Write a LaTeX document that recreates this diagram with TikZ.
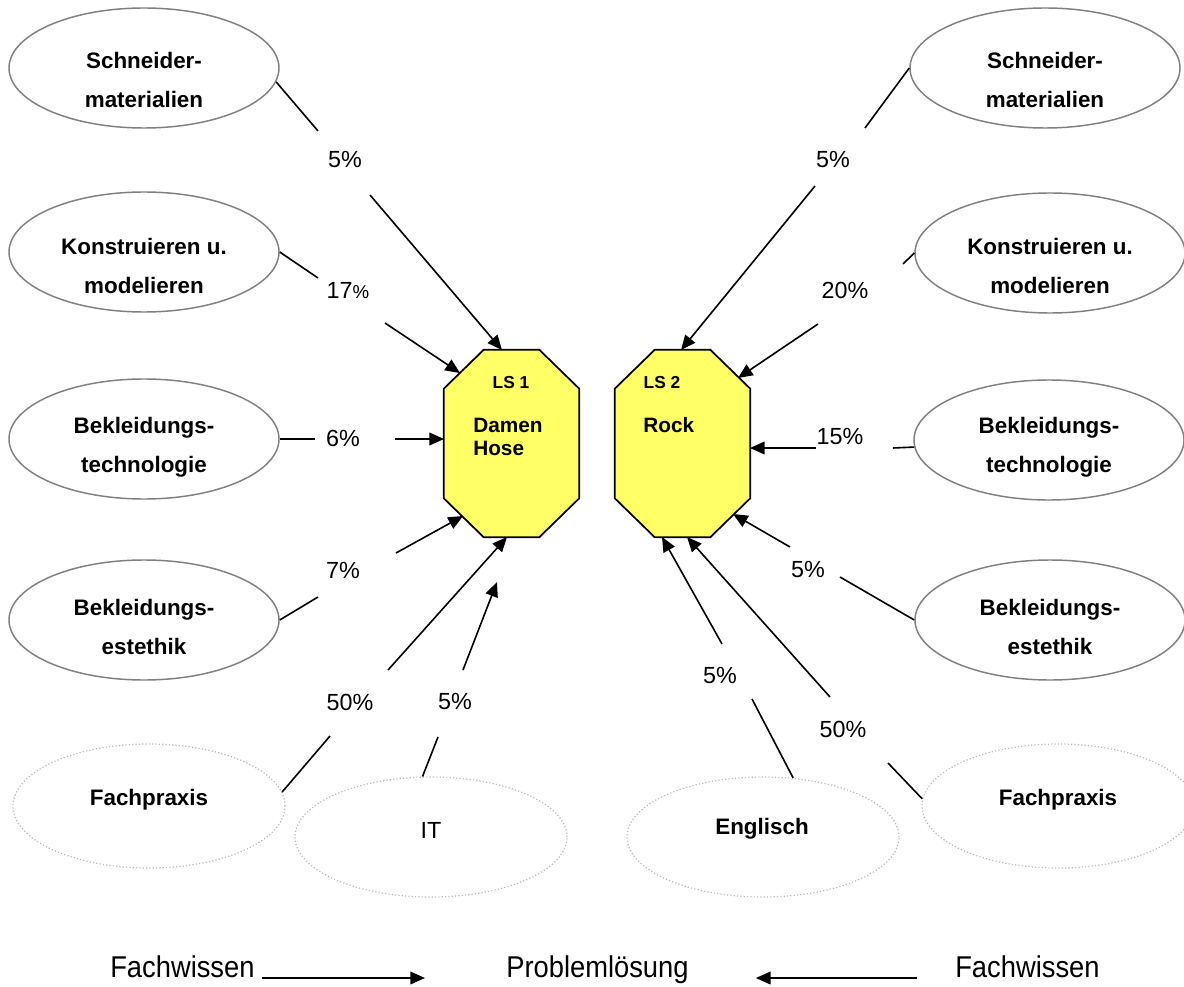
\documentclass[tikz,border=0pt]{standalone}
\usepackage{fontspec}
\setmainfont{Liberation Sans}
\usetikzlibrary{shapes.geometric,arrows.meta,calc}
\definecolor{ellgray}{RGB}{128,128,128}
\definecolor{dotgray}{RGB}{185,185,185}
\definecolor{octyellow}{RGB}{255,255,102}
\begin{document}
\begin{tikzpicture}[x=0.75pt,y=-0.75pt,
  ell/.style={ellipse,draw=ellgray,line width=1.1pt,minimum width=202.5pt,minimum height=90pt,inner sep=0pt},
  dotell/.style={ellipse,draw=dotgray,line width=0.9pt,dash pattern=on 0.9pt off 1.6pt,minimum width=204pt,inner sep=0pt},
  eltext/.style={font=\fontsize{16.8}{29.25}\selectfont\bfseries,align=center,inner sep=0pt},
  itext/.style={font=\fontsize{17.5}{20}\selectfont,inner sep=0pt},
  pct/.style={font=\fontsize{17.5}{21}\selectfont,inner sep=0pt},
  conn/.style={line width=1.2pt},
  arr/.style={line width=1.2pt,-{Triangle[length=11pt,width=9.5pt]}},
  oct/.style={draw=black,line width=1.3pt,fill=octyellow,line join=miter},
  octbox/.style={rectangle,minimum width=101.25pt,minimum height=140.25pt,inner sep=0pt},
  lstext/.style={font=\fontsize{13}{15}\selectfont\bfseries,inner sep=0pt},
  octtext/.style={font=\fontsize{15.6}{17.25}\selectfont\bfseries,align=left,anchor=west,inner sep=0pt},
  bottext/.style={font=\fontsize{20.5}{25}\selectfont,anchor=base west,inner sep=0pt,yscale=1.1},
]
\path[use as bounding box] (0,0) rectangle (1184,987);

% octagons
\node[octbox] (ls1) at (511.5,443.5) {};
\node[octbox] (ls2) at (682.5,443.5) {};
\foreach \o in {ls1,ls2}{
  \draw[oct] ($(\o.north west)+(40,0)$) -- ($(\o.north east)+(-40,0)$) -- ($(\o.north east)+(0,39)$) -- ($(\o.south east)+(0,-39)$) -- ($(\o.south east)+(-40,0)$) -- ($(\o.south west)+(40,0)$) -- ($(\o.south west)+(0,-39)$) -- ($(\o.north west)+(0,39)$) -- cycle;
}
\node[lstext] (ls1t) at (511,383) {LS 1};
\node[octtext] (ls1n) at (473,436.5) {Damen\\Hose};
\node[lstext] (ls2t) at (662,383) {LS 2};
\node[octtext] (ls2n) at (643,425) {Rock};

% left ellipses
\node[ell] (sl) at (144,68) {};
\node[eltext] (slt) at (144,80) {Schneider-\\materialien};
\node[ell] (kl) at (144,252) {};
\node[eltext] (klt) at (144,266) {Konstruieren u.\\modelieren};
\node[ell] (tl) at (144,439) {};
\node[eltext] (tlt) at (144,447) {Bekleidungs-\\technologie};
\node[ell] (el) at (144,620) {};
\node[eltext] (elt) at (144,627) {Bekleidungs-\\estethik};
\node[dotell,minimum height=93pt] (fl) at (149,806) {};
\node[eltext] (flt) at (149,800) {Fachpraxis};
\node[dotell,minimum height=90pt] (it) at (431,837) {};
\node[itext] (itt) at (431,830) {IT};
\node[dotell,minimum height=90pt] (en) at (763,837) {};
\node[eltext] (ent) at (762,829) {Englisch};

% right ellipses
\node[ell] (sr) at (1045,68) {};
\node[eltext] (srt) at (1045,80) {Schneider-\\materialien};
\node[ell] (kr) at (1050,253) {};
\node[eltext] (krt) at (1050,266) {Konstruieren u.\\modelieren};
\node[ell] (tr) at (1049,440) {};
\node[eltext] (trt) at (1049,447) {Bekleidungs-\\technologie};
\node[ell] (er) at (1050,620) {};
\node[eltext] (ert) at (1050,627) {Bekleidungs-\\estethik};
\node[dotell,minimum height=93pt] (fr) at (1058,806) {};
\node[eltext] (frt) at (1058,800) {Fachpraxis};

% left connectors
\coordinate (l1a) at (318,131); \coordinate (l1b) at (370,195); \coordinate (l1t) at (502,350);
\draw[conn] (sl.-6) -- (l1a);
\node[pct] (p1) at (345,160) {5\%};
\draw[arr] (l1b) -- (l1t);

\coordinate (l2a) at (318,278); \coordinate (l2b) at (385,323); \coordinate (l2t) at (460,373);
\draw[conn] (kl.east) -- (l2a);
\node[pct] (p2) at (348,291) {17{\fontsize{14}{14}\selectfont\%}};
\draw[arr] (l2b) -- (l2t);

\coordinate (l3a) at (315,439); \coordinate (l3b) at (395,439); \coordinate (l3t) at (444,439);
\draw[conn] (tl.east) -- (l3a);
\node[pct] (p3) at (343,438) {6\%};
\draw[arr] (l3b) -- (l3t);

\coordinate (l4a) at (318,597); \coordinate (l4b) at (396,553); \coordinate (l4t) at (463,516);
\draw[conn] (el.east) -- (l4a);
\node[pct] (p4) at (343,570) {7\%};
\draw[arr] (l4b) -- (l4t);

\coordinate (l5a) at (330,736); \coordinate (l5b) at (388,670); \coordinate (l5t) at (507,537);
\draw[conn] (fl.6) -- (l5a);
\node[pct] (p5) at (350,702) {50\%};
\draw[arr] (l5b) -- (l5t);

\coordinate (l6a) at (438,737); \coordinate (l6b) at (463,670); \coordinate (l6t) at (497,582);
\draw[conn] (it.98) -- (l6a);
\node[pct] (p6) at (455,702) {5\%};
\draw[arr] (l6b) -- (l6t);

% right connectors
\coordinate (r1a) at (865,128); \coordinate (r1b) at (815,186); \coordinate (r1t) at (681,350);
\draw[conn] (sr.west) -- (r1a);
\node[pct] (q1) at (833,160) {5\%};
\draw[arr] (r1b) -- (r1t);

\coordinate (r2a) at (903,264); \coordinate (r2b) at (818,324); \coordinate (r2t) at (738,378);
\draw[conn] (kr.west) -- (r2a);
\node[pct] (q2) at (845,290) {20\%};
\draw[arr] (r2b) -- (r2t);

\coordinate (r3a) at (893,448); \coordinate (r3b) at (816,448); \coordinate (r3t) at (750,448);
\draw[conn] (tr.183) -- (r3a);
\node[pct] (q3) at (840,437) {15\%};
\draw[arr] (r3b) -- (r3t);

\coordinate (r4a) at (840,577); \coordinate (r4b) at (790,547); \coordinate (r4t) at (733,514);
\draw[conn] (er.west) -- (r4a);
\node[pct] (q4) at (808,570) {5\%};
\draw[arr] (r4b) -- (r4t);

\coordinate (r5a) at (888,763); \coordinate (r5b) at (830,697); \coordinate (r5t) at (687,537);
\draw[conn] (fr.177) -- (r5a);
\node[pct] (q5) at (843,729) {50\%};
\draw[arr] (r5b) -- (r5t);

\coordinate (r6a) at (752,699); \coordinate (r6b) at (722,644); \coordinate (r6t) at (662,537);
\draw[conn] (en.63) -- (r6a);
\node[pct] (q6) at (720,676) {5\%};
\draw[arr] (r6b) -- (r6t);

% bottom
\node[bottext] (fw1) at (110,977) {Fachwissen};
\node[bottext] (pl) at (506,977) {Problemlösung};
\node[bottext] (fw2) at (955,977) {Fachwissen};
\draw[arr] ($(fw1.base east)+(7,1)$) -- ($(pl.base west)+(-81,1)$);
\draw[arr] ($(fw2.base west)+(-38,1)$) -- ($(pl.base east)+(67,1)$);
\end{tikzpicture}
\end{document}
